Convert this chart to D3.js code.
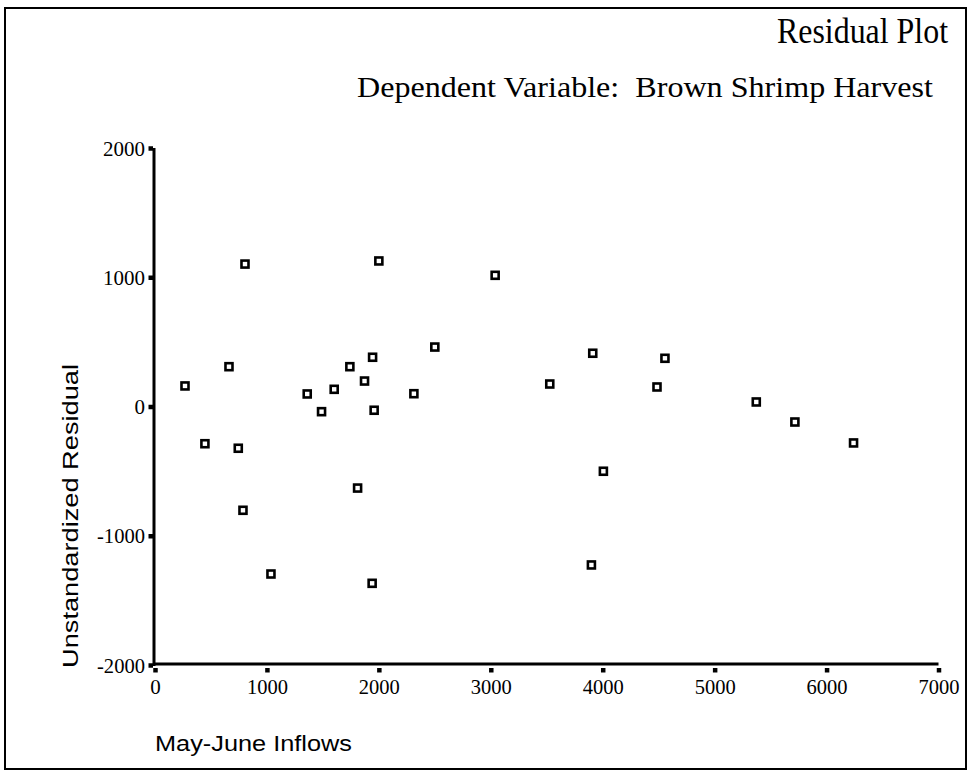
<!DOCTYPE html>
<html>
<head>
<meta charset="utf-8">
<script src="https://cdn.jsdelivr.net/npm/d3@7"></script>
<style>
  html, body { margin: 0; padding: 0; background: #fff; }
  svg { display: block; }
</style>
</head>
<body>
<svg id="chart" width="969" height="772"></svg>
<script>
// ---- data ----
const inflows = [268, 446, 661, 744, 804, 786, 1036, 1360, 1488, 1601, 1741, 1810, 1872, 1944, 1958, 1940, 2000, 2313, 2500, 3039, 3527, 3911, 3899, 4006, 4485, 4556, 5372, 5717, 6241];
const residuals = [159, -288, 308, -323, 1102, -803, -1296, 97, -40, 133, 308, -631, 197, 381, -29, -1368, 1126, 99, 460, 1015, 174, 412, -1226, -501, 151, 373, 35, -120, -282];
const xTicks = [0, 1000, 2000, 3000, 4000, 5000, 6000, 7000];
const yTicks = [-2000, -1000, 0, 1000, 2000];
const titleText = "Residual Plot";
const subtitleText = "Dependent Variable:  Brown Shrimp Harvest";
const xTitle = "May-June Inflows";
const yTitle = "Unstandardized Residual";

const svg = d3.select("#chart");
const serif = "Liberation Serif, Times New Roman, serif";
const sans = "Liberation Sans, Arial, sans-serif";

// frame
svg.append("rect").attr("x", 5).attr("y", 8).attr("width", 961).attr("height", 761)
  .attr("fill", "none").attr("stroke", "#000").attr("stroke-width", 2);

const x = d3.scaleLinear().domain([0, 7000]).range([155, 938.5]);
const y = d3.scaleLinear().domain([-2000, 2000]).range([665, 148]);
const fmt = d => String(d);

// x axis
const gx = svg.append("g").attr("transform", `translate(0,${y(-2000) - 1})`)
  .call(d3.axisBottom(x).tickValues(xTicks).tickSize(8).tickSizeOuter(0).tickFormat(fmt));
gx.attr("font-family", serif).attr("font-size", 21);
gx.select(".domain").attr("stroke", "#000").attr("stroke-width", 3).attr("d", `M${x(0) - 1},0H${x(7000)}`);
gx.selectAll(".tick line").attr("y1", 4).attr("y2", 8.5).attr("stroke", "#000").attr("stroke-width", 4.5);
gx.selectAll(".tick text").attr("y", 30).attr("dy", 0).attr("fill", "#000")
  .attr("textLength", 41).attr("lengthAdjust", "spacingAndGlyphs")
  .filter(d => d === 0).attr("textLength", null);

// y axis
const gy = svg.append("g").attr("transform", `translate(${x(0) - 1},0)`)
  .call(d3.axisLeft(y).tickValues(yTicks).tickSize(6).tickSizeOuter(0).tickFormat(fmt));
gy.attr("font-family", serif).attr("font-size", 21);
gy.select(".domain").attr("stroke", "#000").attr("stroke-width", 3).attr("d", `M0,${y(2000)}V${y(-2000) + 1}`);
gy.selectAll(".tick line").attr("x1", -1).attr("x2", -5.5).attr("stroke", "#000").attr("stroke-width", 4.5);
gy.selectAll(".tick text").attr("x", -9).attr("dy", "0.34em").attr("fill", "#000")
  .attr("textLength", d => d === 0 ? null : (d < 0 ? 48 : 42)).attr("lengthAdjust", "spacingAndGlyphs");

// points
const pts = inflows.map((v, i) => ({ x: v, y: residuals[i] }));
const s = 7;
svg.append("g").selectAll("rect").data(pts).join("rect")
  .attr("x", d => x(d.x) - s / 2).attr("y", d => y(d.y) - s / 2)
  .attr("width", s).attr("height", s)
  .attr("fill", "#fff").attr("stroke", "#000").attr("stroke-width", 2.6);

// titles
svg.append("text").attr("x", 948).attr("y", 43).attr("text-anchor", "end")
  .attr("font-family", serif).attr("font-size", 36).attr("fill", "#000")
  .attr("textLength", 171).attr("lengthAdjust", "spacingAndGlyphs").text(titleText);
svg.append("text").attr("x", 357).attr("y", 97)
  .attr("font-family", serif).attr("font-size", 30).attr("fill", "#000")
  .attr("textLength", 576).attr("lengthAdjust", "spacingAndGlyphs")
  .style("white-space", "pre").text(subtitleText);
svg.append("text").attr("x", 155).attr("y", 751)
  .attr("font-family", sans).attr("font-size", 22).attr("fill", "#000")
  .attr("textLength", 197).attr("lengthAdjust", "spacingAndGlyphs").text(xTitle);
svg.append("text").attr("transform", "translate(78,668) rotate(-90)")
  .attr("font-family", sans).attr("font-size", 22).attr("fill", "#000")
  .attr("textLength", 304).attr("lengthAdjust", "spacingAndGlyphs").text(yTitle);
</script>
</body>
</html>
